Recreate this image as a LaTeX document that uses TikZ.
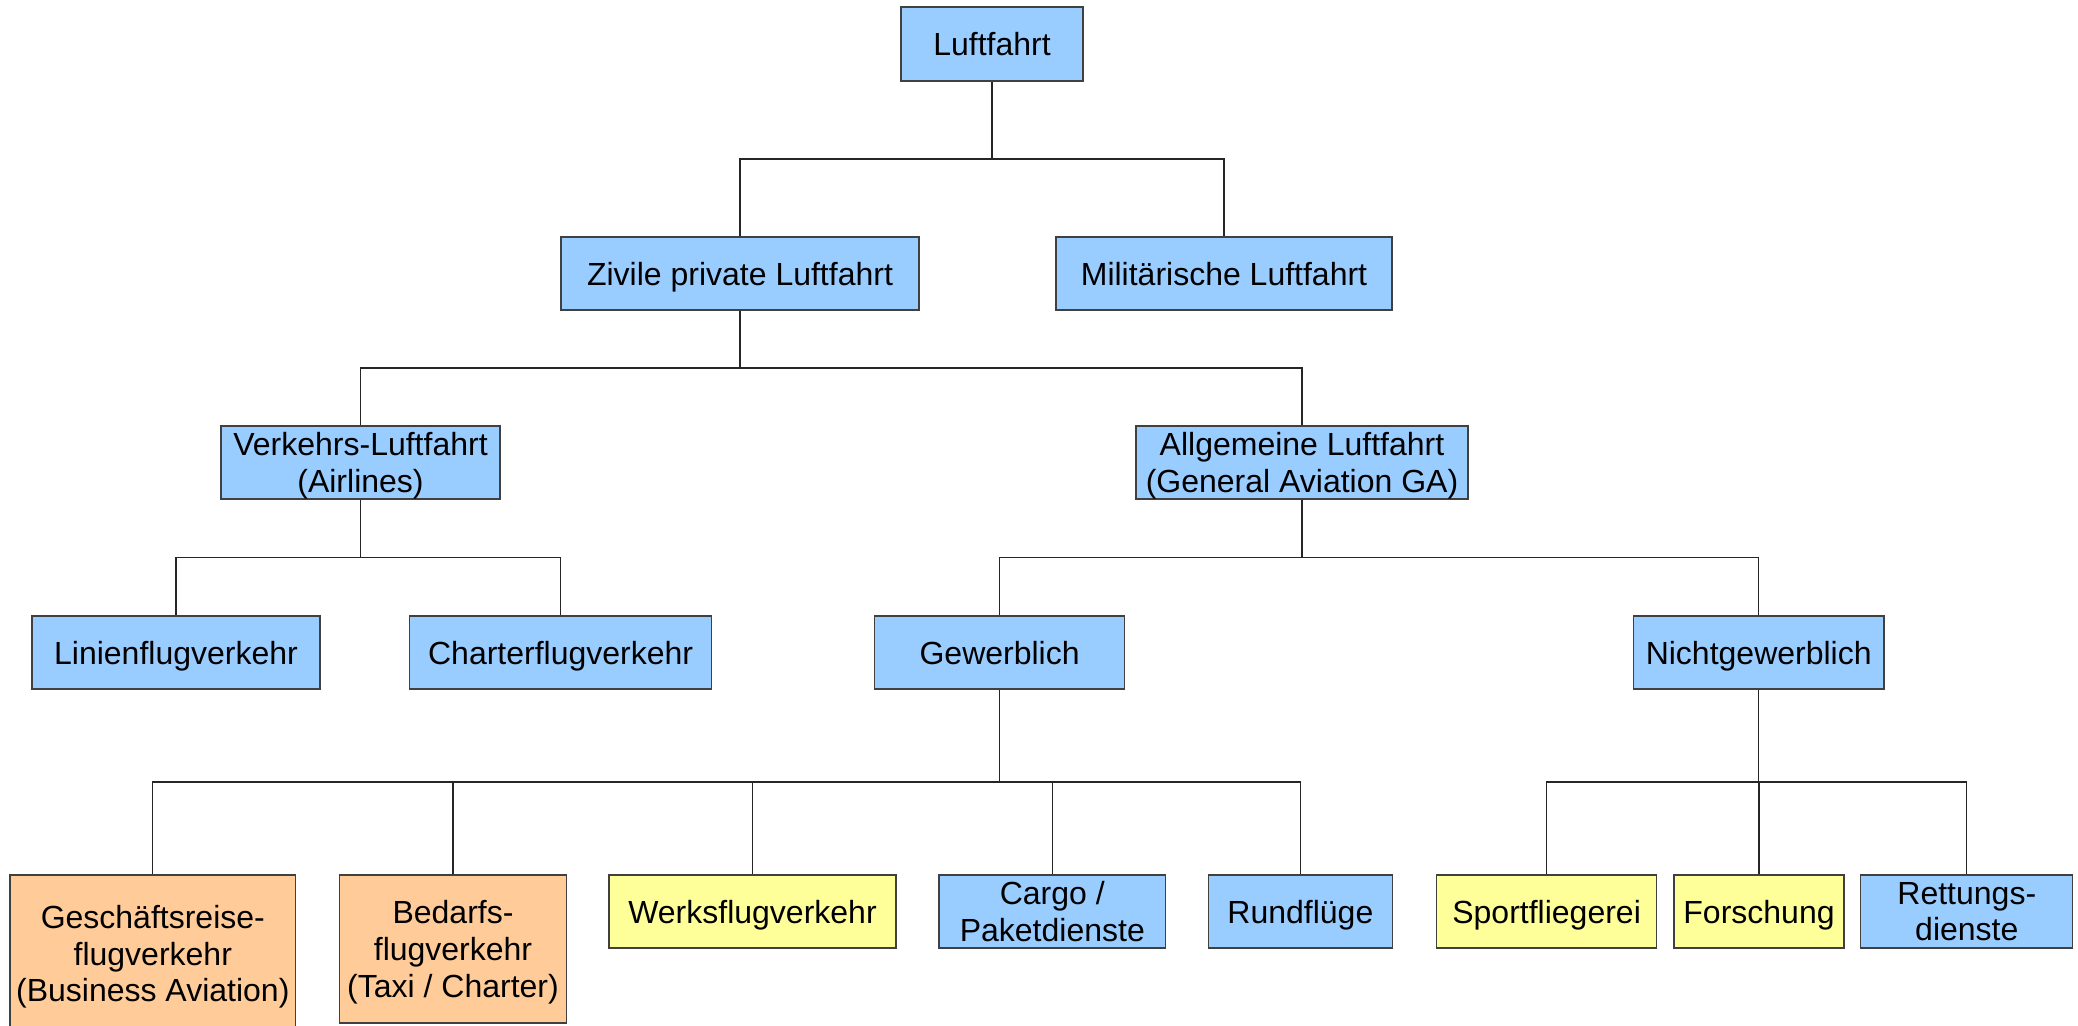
\documentclass[tikz,border=0pt]{standalone}
\usepackage{fontspec}
\setmainfont{Liberation Sans}
\usetikzlibrary{calc}
\definecolor{skyblue}{HTML}{99CCFF}
\definecolor{peach}{HTML}{FFCC99}
\definecolor{lemon}{HTML}{FFFF99}
\tikzset{
  box/.style={draw=black!75,line width=0.6pt,fill=skyblue,align=center,inner sep=0pt,
    minimum height=36.5pt,text depth=0pt,font=\fontsize{16}{18.4}\selectfont},
  peachbox/.style={box,fill=peach},
  lemonbox/.style={box,fill=lemon},
  tree/.style={draw=black!85,line width=0.6pt,
    to path={|- ($(\tikztostart)!.5!(\tikztotarget)$) -| (\tikztotarget)}}
}
\begin{document}
\begin{tikzpicture}[x=0.5pt,y=-0.5pt]
  \useasboundingbox (0,0) rectangle (2078,1026);
  % level 0 and 1
  \node [box,minimum width=91pt,minimum height=37pt] (root) at (992,44) {Luftfahrt};
  \node [box,minimum width=179pt] (zivil) at (740,273.5) {Zivile private Luftfahrt};
  \node [box,minimum width=168pt] (militaer) at (1224,273.5) {Militärische Luftfahrt};
  % level 2
  \node [box,minimum width=139.5pt] (verkehr) at (360.5,462.5) {Verkehrs-Luftfahrt\\(Airlines)};
  \node [box,minimum width=166pt] (allgemein) at (1302,462.5) {Allgemeine Luftfahrt\\(General Aviation GA)};
  % level 3
  \node [box,minimum width=144pt] (linien) at (176,652.5) {Linienflugverkehr};
  \node [box,minimum width=151pt] (charter) at (560.6,652.5) {Charterflugverkehr};
  \node [box,minimum width=125pt] (gewerb) at (999.6,652.5) {Gewerblich};
  \node [box,minimum width=125.3pt] (nichtgew) at (1758.7,652.5) {Nichtgewerblich};
  % level 4
  \node [peachbox,minimum width=142.8pt,minimum height=78.5pt] (geschaeft) at (152.8,953.5) {Geschäftsreise-\\flugverkehr\\(Business Aviation)};
  \node [peachbox,minimum width=113.6pt,minimum height=74pt] (bedarf) at (453,949) {Bedarfs-\\flugverkehr\\(Taxi / Charter)};
  \node [lemonbox,minimum width=143.5pt] (werks) at (752.5,911.5) {Werksflugverkehr};
  \node [box,minimum width=113.3pt] (cargo) at (1052.3,911.5) {Cargo /\\Paketdienste};
  \node [box,minimum width=91.8pt] (rund) at (1300.4,911.5) {Rundflüge};
  \node [lemonbox,minimum width=110pt] (sport) at (1546.6,911.5) {Sportfliegerei};
  \node [lemonbox,minimum width=85pt] (forsch) at (1759,911.5) {Forschung};
  \node [box,minimum width=106pt] (rettung) at (1966.8,911.5) {Rettungs-\\dienste};
  % connectors
  \draw [tree] (root.south) to (zivil.north);
  \draw [tree] (root.south) to (militaer.north);
  \draw [tree] (zivil.south) to (verkehr.north);
  \draw [tree] (zivil.south) to (allgemein.north);
  \draw [tree] (verkehr.south) to (linien.north);
  \draw [tree] (verkehr.south) to (charter.north);
  \draw [tree] (allgemein.south) to (gewerb.north);
  \draw [tree] (allgemein.south) to (nichtgew.north);
  \draw [tree] (gewerb.south) to (geschaeft.north);
  \draw [tree] (gewerb.south) to (bedarf.north);
  \draw [tree] (gewerb.south) to (werks.north);
  \draw [tree] (gewerb.south) to (cargo.north);
  \draw [tree] (gewerb.south) to (rund.north);
  \draw [tree] (nichtgew.south) to (sport.north);
  \draw [tree] (nichtgew.south) to (forsch.north);
  \draw [tree] (nichtgew.south) to (rettung.north);
\end{tikzpicture}
\end{document}
